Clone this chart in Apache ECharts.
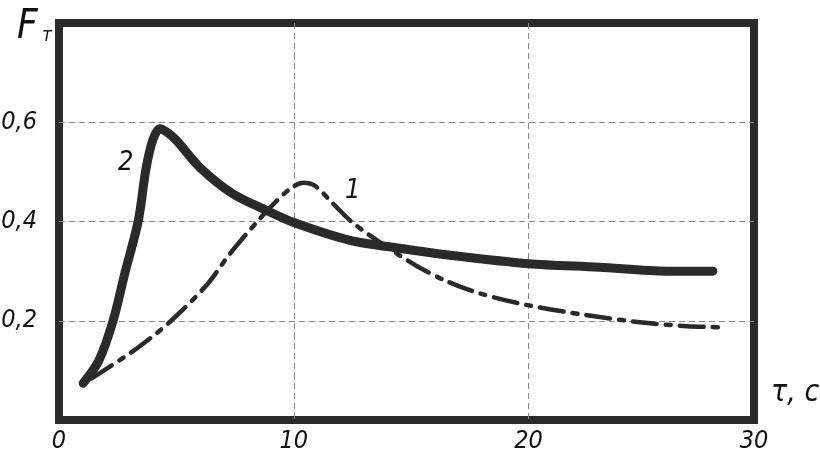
<!DOCTYPE html>
<html>
<head>
<meta charset="utf-8">
<script src="https://cdn.jsdelivr.net/npm/echarts@6/dist/echarts.min.js"></script>
<style>html,body{margin:0;padding:0;background:#fff}#c{width:820px;height:451px}</style>
</head>
<body>
<div id="c"></div>
<script>
// Curve 1 (dash-dot): [tau, F]
var curve1 = [[1.39,0.084],[3.31,0.144],[4.73,0.198],[6.29,0.272],[7.28,0.335],[8.56,0.406],[9.28,0.442],[9.9,0.468],[10.4,0.478],[10.9,0.472],[11.67,0.436],[12.5,0.398],[13.97,0.348],[14.5,0.332],[15.25,0.31],[16.5,0.28],[17.93,0.255],[20,0.231],[22.5,0.211],[24.74,0.197],[26.75,0.189],[28.15,0.187]];
// Curve 2 (thick solid)
var curve2 = [[1.03,0.074],[1.7,0.12],[2.31,0.201],[2.8,0.295],[3.38,0.402],[3.7,0.505],[4.0,0.565],[4.3,0.587],[4.6,0.58],[5.01,0.563],[6.0,0.509],[7.4,0.456],[8.86,0.422],[10,0.398],[12.4,0.362],[14.5,0.346],[16.65,0.332],[20,0.315],[23,0.308],[25.9,0.30],[27.85,0.30]];
var xTicks = [0, 10, 20, 30];
var yTicks = [0.2, 0.4, 0.6];
var curveNames = ['1', '2'];

var FONT = '"DejaVu Sans Condensed", "Liberation Sans Narrow", sans-serif';
var INK = '#2a2a2a';
var chart = echarts.init(document.getElementById('c'));
chart.setOption({
  animation: false,
  grid: {left: 59, top: 23, right: 66, bottom: 31, show: true, borderColor: INK, borderWidth: 8, backgroundColor: 'transparent', outerBoundsMode: 'none'},
  xAxis: {
    type: 'value', min: 0, max: 29.6, interval: 10,
    axisLine: {show: false}, axisTick: {show: false},
    splitLine: {show: true, showMinLine: false, showMaxLine: false, lineStyle: {color: '#8a8a8a', type: [6, 4], width: 1}},
    axisLabel: {
      showMaxLabel: true, showMinLabel: true, margin: 9,
      fontFamily: FONT, fontStyle: 'italic', fontSize: 25, color: '#111',
      formatter: function (v) { return v > 25 ? String(xTicks[3]) : String(Math.round(v)); }
    }
  },
  yAxis: {
    type: 'value', min: 0, max: 0.8, interval: 0.2,
    axisLine: {show: false}, axisTick: {show: false},
    splitLine: {show: true, showMinLine: false, showMaxLine: false, lineStyle: {color: '#8a8a8a', type: [6, 4], width: 1}},
    axisLabel: {
      margin: 22, padding: [12, 0, 0, 0],
      fontFamily: FONT, fontStyle: 'italic', fontSize: 25, color: '#111',
      formatter: function (v) {
        var ok = yTicks.some(function (t) { return Math.abs(t - v) < 1e-6; });
        return ok ? v.toFixed(1).replace('.', ',') : '';
      }
    }
  },
  series: [
    {name: curveNames[0], type: 'line', data: curve1, showSymbol: false, smooth: 0.3,
     lineStyle: {color: INK, width: 4.5, type: [24, 9, 5, 9], cap: 'round', join: 'round'}, z: 3},
    {name: curveNames[1], type: 'line', data: curve2, showSymbol: false, smooth: 0.3,
     lineStyle: {color: INK, width: 9, cap: 'round', join: 'round'}, z: 4}
  ],
  graphic: [
    {type: 'text', left: 17, top: 8, style: {text: 'F', font: 'italic 40px ' + FONT, fill: '#111'}},
    {type: 'text', left: 42, top: 27, style: {text: 'т', font: 'italic 19px ' + FONT, fill: '#111'}},
    {type: 'text', left: 771, top: 378, style: {text: 'τ, c', font: 'italic 30px ' + FONT, fill: '#111'}},
    {type: 'text', left: 118, top: 149, style: {text: curveNames[1], font: 'italic 27px ' + FONT, fill: '#111'}},
    {type: 'text', left: 345, top: 177, style: {text: curveNames[0], font: 'italic 27px ' + FONT, fill: '#111'}}
  ]
});
</script>
</body>
</html>
